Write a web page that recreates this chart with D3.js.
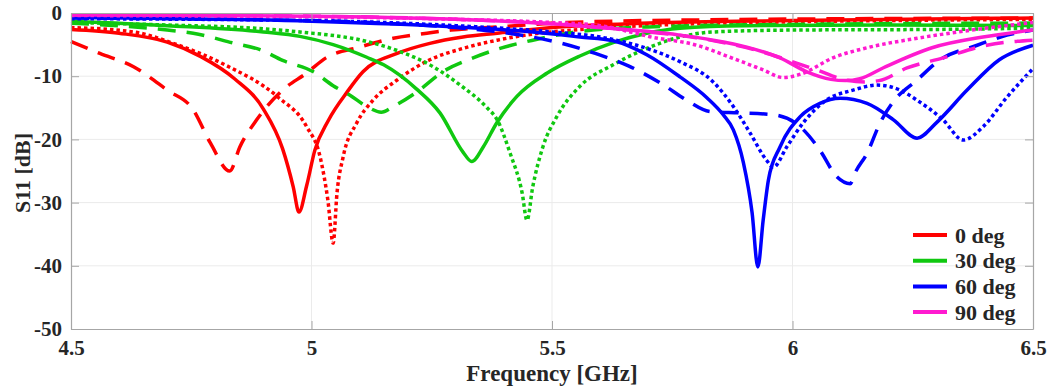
<!DOCTYPE html>
<html>
<head>
<meta charset="utf-8">
<script src="https://cdn.jsdelivr.net/npm/d3@7"></script>
<style>
  body { margin: 0; background: #fff; }
  svg { display: block; }
  .lbl { font-family: "Liberation Serif", "Times New Roman", serif; font-weight: bold; fill: #262626; }
</style>
</head>
<body>
<script>
// S11 curves, [frequency GHz, dB]
var redSolid = [[4.5,-2.6],[4.6,-3.2],[4.7,-4.6],[4.77,-6.9],[4.84,-10.4],[4.9,-15.2],[4.94,-21.5],[4.962,-27.5],[4.974,-31.5],[4.99,-27.3],[5.007,-21.7],[5.035,-17],[5.075,-12.4],[5.107,-9.3],[5.178,-6.4],[5.246,-4.8],[5.315,-3.8],[5.386,-3.2],[5.5,-2.3],[5.7,-1.6],[6.0,-1.2],[6.5,-0.8]];
var redDashed = [[4.5,-4.5],[4.56,-6.4],[4.63,-8.5],[4.7,-12.2],[4.754,-15.3],[4.79,-20.6],[4.83,-25],[4.851,-21.2],[4.886,-16.9],[4.94,-12.2],[4.99,-9.5],[5.03,-7.1],[5.1,-5.4],[5.17,-4.0],[5.24,-3.2],[5.29,-2.7],[5.39,-2.2],[5.53,-1.5],[5.8,-1.1],[6.5,-0.8]];
var redDotted = [[4.5,-2.3],[4.63,-3.0],[4.72,-5.0],[4.82,-8.2],[4.93,-13.3],[4.99,-18],[5.018,-22.8],[5.034,-29.6],[5.045,-36.4],[5.053,-28.5],[5.066,-22.7],[5.094,-17.4],[5.128,-13.8],[5.178,-10.6],[5.246,-7.4],[5.315,-5.6],[5.386,-4.3],[5.454,-3.4],[5.6,-2.4],[5.8,-1.7],[6.0,-1.4],[6.5,-1.0]];

var greenSolid = [[4.5,-1.3],[4.7,-2.0],[4.9,-3.0],[4.976,-3.7],[5.045,-5.0],[5.115,-7.0],[5.15,-8.2],[5.218,-12],[5.267,-15.8],[5.315,-22.0],[5.333,-23.5],[5.357,-21.2],[5.385,-17.4],[5.427,-13.2],[5.49,-9.5],[5.558,-6.8],[5.627,-4.7],[5.697,-3.2],[5.766,-2.4],[5.9,-2.0],[6.2,-1.9],[6.5,-2.0]];
var greenDashed = [[4.5,-1.6],[4.7,-2.7],[4.754,-3.2],[4.84,-4.8],[4.893,-5.8],[4.94,-7.5],[5.004,-9.3],[5.045,-11.5],[5.08,-13],[5.115,-14.8],[5.145,-15.7],[5.17,-14.8],[5.219,-12.5],[5.273,-9.3],[5.336,-7.1],[5.392,-5.6],[5.46,-4.3],[5.55,-3.0],[5.7,-2.2],[6.0,-1.8],[6.5,-1.6]];
var greenDotted = [[4.5,-1.5],[4.7,-1.9],[4.9,-2.5],[4.976,-3.0],[5.115,-4.5],[5.184,-6.1],[5.253,-8.5],[5.309,-11.4],[5.365,-15.0],[5.386,-16.9],[5.413,-22.2],[5.438,-28.5],[5.448,-32.8],[5.46,-27.5],[5.481,-21.2],[5.51,-16.4],[5.558,-11.6],[5.627,-8.2],[5.697,-5.6],[5.766,-3.8],[5.835,-3.0],[6.0,-2.7],[6.3,-2.6],[6.5,-2.4]];

var blueSolid = [[4.5,-0.7],[5.0,-1.3],[5.3,-2.2],[5.46,-3.0],[5.558,-3.8],[5.627,-4.4],[5.697,-6.6],[5.766,-10.1],[5.822,-13.4],[5.856,-16.1],[5.877,-18.5],[5.898,-23.7],[5.916,-31.6],[5.928,-40.2],[5.939,-32.8],[5.95,-26.4],[5.974,-21.2],[6.016,-16.4],[6.057,-14.3],[6.099,-13.5],[6.155,-14.3],[6.21,-16.9],[6.259,-19.8],[6.30,-17.3],[6.363,-12.2],[6.43,-7.4],[6.5,-5.1]];
var blueDashed = [[4.5,-0.8],[5.0,-1.2],[5.2,-1.8],[5.3,-2.3],[5.41,-3.2],[5.52,-4.8],[5.59,-6.4],[5.66,-8.4],[5.73,-11.3],[5.78,-13.8],[5.83,-15.6],[5.89,-15.8],[5.96,-16.1],[6.016,-18.0],[6.057,-21.7],[6.092,-25.9],[6.12,-27.0],[6.13,-25.3],[6.155,-22.2],[6.182,-17.4],[6.21,-14.0],[6.259,-10.6],[6.307,-7.4],[6.384,-5.1],[6.446,-3.5],[6.5,-2.7]];
var blueDotted = [[4.5,-0.9],[5.0,-1.2],[5.3,-2.0],[5.5,-3.0],[5.6,-3.8],[5.697,-5.6],[5.766,-7.7],[5.835,-10.9],[5.877,-14.8],[5.912,-19.0],[5.946,-23.3],[5.96,-24.4],[5.988,-21.2],[6.022,-17.4],[6.07,-13.8],[6.126,-12.2],[6.176,-11.4],[6.224,-12.2],[6.259,-13.8],[6.313,-16.9],[6.355,-20.1],[6.396,-18.0],[6.446,-13.3],[6.5,-8.8]];

var magentaSolid = [[4.5,-0.3],[5.0,-0.5],[5.3,-1.0],[5.5,-1.7],[5.6,-2.3],[5.697,-2.9],[5.766,-3.5],[5.835,-4.3],[5.905,-5.4],[5.974,-7.1],[6.03,-9.3],[6.08,-10.5],[6.11,-10.7],[6.14,-10.4],[6.188,-8.7],[6.29,-5.5],[6.396,-3.8],[6.5,-2.7]];
var magentaDashed = [[4.5,-0.3],[5.0,-0.5],[5.3,-1.0],[5.5,-1.7],[5.7,-3.0],[5.8,-3.9],[5.87,-4.9],[5.926,-5.9],[5.988,-7.4],[6.05,-9.0],[6.105,-10.5],[6.15,-10.9],[6.18,-10.7],[6.238,-8.7],[6.313,-7.1],[6.404,-5.1],[6.5,-4.3]];
var magentaDotted = [[4.5,-0.4],[5.0,-0.6],[5.3,-1.0],[5.5,-1.5],[5.6,-2.0],[5.663,-3.0],[5.70,-3.7],[5.801,-5.1],[5.87,-7.0],[5.939,-9.0],[5.98,-10.2],[6.02,-9.6],[6.084,-7.1],[6.155,-5.5],[6.259,-4.0],[6.363,-2.8],[6.5,-1.5]];

var angles = ['0 deg', '30 deg', '60 deg', '90 deg'];
var colors = ['#ff0000', '#10c810', '#0000ff', '#ff1ad0'];
var xTicks = [4.5, 5, 5.5, 6, 6.5];
var yTicks = [0, -10, -20, -30, -40, -50];

var series = [
  [redSolid, redDashed, redDotted],
  [greenSolid, greenDashed, greenDotted],
  [blueSolid, blueDashed, blueDotted],
  [magentaSolid, magentaDashed, magentaDotted]
];
var dashes = [null, '18,11', '3.5,3'];

var W = 1050, H = 387
  , margin = {top: 13, right: 17, bottom: 58, left: 71}
  , width = W - margin.left - margin.right
  , height = H - margin.top - margin.bottom
  , serif = '"Liberation Serif", "Times New Roman", serif';

var svgm = d3.select('body').append('svg').attr('width', W).attr('height', H);
var svg = svgm.append('g').attr('transform', `translate(${margin.left},${margin.top})`);

var x = d3.scaleLinear().domain([4.5, 6.5]).range([0, width])
  , y = d3.scaleLinear().domain([-50, 0]).range([height, 0]);

// grid
svg.append('g').selectAll('line').data(xTicks.slice(1, -1)).enter().append('line')
  .attr('x1', d => x(d)).attr('x2', d => x(d)).attr('y1', 0).attr('y2', height)
  .attr('stroke', '#ebebeb').attr('stroke-width', 1);
svg.append('g').selectAll('line').data(yTicks.slice(1, -1)).enter().append('line')
  .attr('y1', d => y(d)).attr('y2', d => y(d)).attr('x1', 0).attr('x2', width)
  .attr('stroke', '#ebebeb').attr('stroke-width', 1);

// curves
var line = d3.line().x(d => x(d[0])).y(d => y(d[1])).curve(d3.curveMonotoneX);
var plot = svg.append('g');
series.forEach(function(group, i) {
  group.forEach(function(data, j) {
    var p = plot.append('path').datum(data).attr('d', line)
      .attr('fill', 'none').attr('stroke', colors[i]).attr('stroke-width', 3.5)
      .attr('stroke-linejoin', 'round');
    if (dashes[j]) p.attr('stroke-dasharray', dashes[j]);
  });
});

// axes (MATLAB style box with inward ticks)
var fmt = d => String(d);
var gx = svg.append('g').attr('transform', `translate(0,${height})`)
  .call(d3.axisBottom(x).tickValues(xTicks).tickFormat(fmt).tickSizeInner(-8).tickSizeOuter(0).tickPadding(11));
var gy = svg.append('g')
  .call(d3.axisLeft(y).tickValues(yTicks).tickFormat(fmt).tickSizeInner(-8).tickSizeOuter(0).tickPadding(9));
var gt = svg.append('g')
  .call(d3.axisTop(x).tickValues(xTicks).tickFormat('').tickSizeInner(-8).tickSizeOuter(0));
var gr = svg.append('g').attr('transform', `translate(${width},0)`)
  .call(d3.axisRight(y).tickValues(yTicks).tickFormat('').tickSizeInner(-8).tickSizeOuter(0));
[gx, gy, gt, gr].forEach(function(g) {
  g.attr('font-family', serif).attr('font-size', 21);
  g.select('.domain').attr('stroke', '#a6a6a6').attr('stroke-width', 1.2);
  g.selectAll('.tick line').attr('stroke', '#a6a6a6');
  g.selectAll('.tick text').attr('fill', '#262626')
    .style('font-family', serif).style('font-weight', 'bold').style('font-size', '21px');
});

// axis labels
svg.append('text').attr('class', 'lbl').attr('x', width / 2).attr('y', 368)
  .attr('text-anchor', 'middle').style('font-size', '23px').text('Frequency [GHz]');
svg.append('text').attr('class', 'lbl')
  .attr('transform', `translate(${-71 + 30},${height / 2 + 2}) rotate(-90)`)
  .attr('text-anchor', 'middle').style('font-size', '22px').text('S11 [dB]');

// legend
var leg = svg.append('g').attr('transform', `translate(${913 - margin.left},${235 - margin.top})`);
angles.forEach(function(a, i) {
  var r = leg.append('g').attr('transform', `translate(0,${i * 25.7})`);
  r.append('line').attr('x1', 0).attr('x2', 34).attr('y1', 0).attr('y2', 0)
    .attr('stroke', colors[i]).attr('stroke-width', 4);
  r.append('text').attr('class', 'lbl').attr('x', 42).attr('y', 7.5)
    .style('font-size', '22px').text(a);
});
</script>
</body>
</html>
